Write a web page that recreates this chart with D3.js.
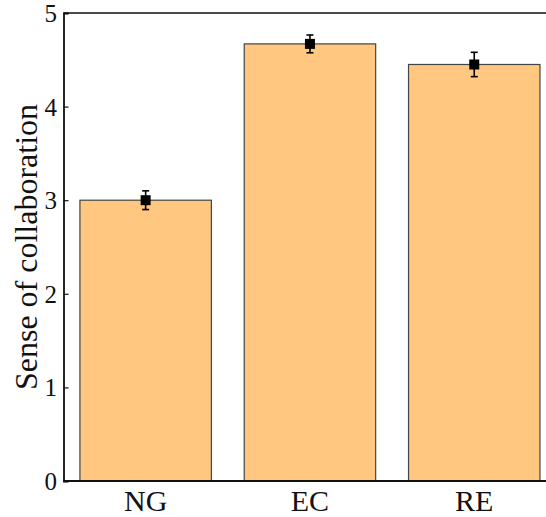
<!DOCTYPE html>
<html>
<head>
<meta charset="utf-8">
<script src="https://cdn.jsdelivr.net/npm/d3@7"></script>
<style>
  html, body { margin: 0; padding: 0; background: #fff; }
  svg { display: block; }
</style>
</head>
<body>
<svg id="chart" width="546" height="517"></svg>
<script>
const categories = ["NG", "EC", "RE"];
const means = [3.0, 4.67, 4.45];
const errors = [0.10, 0.095, 0.13];
const yTicks = [0, 1, 2, 3, 4, 5];
const yLabel = "Sense of collaboration";

const svg = d3.select("#chart");
const mLeft = 63.5, mRight = 556.4, mTop = 13, mBottom = 481;

const x = d3.scaleBand().domain(categories).range([mLeft, mRight])
  .paddingInner(0.2).paddingOuter(0.1);
const y = d3.scaleLinear().domain([0, 5]).range([mBottom, mTop]);

const data = categories.map((c, i) => ({ c, m: means[i], e: errors[i] }));

// bars
svg.append("g").selectAll("rect").data(data).join("rect")
  .attr("x", d => x(d.c))
  .attr("y", d => y(d.m))
  .attr("width", x.bandwidth())
  .attr("height", d => y(0) - y(d.m))
  .attr("fill", "#ffc780")
  .attr("stroke", "#444")
  .attr("stroke-width", 1.2);

// axes box lines
svg.append("line").attr("x1", mLeft).attr("x2", 546).attr("y1", mTop).attr("y2", mTop)
  .attr("stroke", "#111").attr("stroke-width", 1.6);
svg.append("line").attr("x1", mLeft).attr("x2", 546).attr("y1", mBottom).attr("y2", mBottom)
  .attr("stroke", "#111").attr("stroke-width", 2);

// y axis with inward ticks
const yAxis = d3.axisLeft(y).tickValues(yTicks).tickSize(-5).tickPadding(6.5)
  .tickFormat(d3.format("d"));
const gy = svg.append("g").attr("transform", `translate(${mLeft},0)`).call(yAxis);
gy.select(".domain").attr("stroke", "#111").attr("stroke-width", 1.8);
gy.selectAll(".tick line").attr("stroke", "#111").attr("stroke-width", 1.2);
gy.selectAll(".tick text")
  .attr("font-family", "'Liberation Serif', 'DejaVu Serif', serif")
  .attr("font-size", 25).attr("fill", "#111").attr("dy", "0.34em");

// x axis labels
const xAxis = d3.axisBottom(x).tickSize(0).tickPadding(9);
const gx = svg.append("g").attr("transform", `translate(0,${mBottom})`).call(xAxis);
gx.select(".domain").remove();
gx.selectAll(".tick text")
  .attr("font-family", "'Liberation Serif', 'DejaVu Serif', serif")
  .attr("font-size", 30).attr("fill", "#111");

// error bars
const cx = d => x(d.c) + x.bandwidth() / 2;
const eg = svg.append("g").attr("stroke", "#000").attr("stroke-width", 1.6);
eg.selectAll("line.v").data(data).join("line").attr("class", "v")
  .attr("x1", cx).attr("x2", cx)
  .attr("y1", d => y(d.m + d.e)).attr("y2", d => y(d.m - d.e));
eg.selectAll("line.t").data(data).join("line").attr("class", "t")
  .attr("x1", d => cx(d) - 3.5).attr("x2", d => cx(d) + 3.5)
  .attr("y1", d => y(d.m + d.e)).attr("y2", d => y(d.m + d.e));
eg.selectAll("line.b").data(data).join("line").attr("class", "b")
  .attr("x1", d => cx(d) - 3.5).attr("x2", d => cx(d) + 3.5)
  .attr("y1", d => y(d.m - d.e)).attr("y2", d => y(d.m - d.e));
svg.append("g").selectAll("rect").data(data).join("rect")
  .attr("x", d => cx(d) - 5).attr("y", d => y(d.m) - 5)
  .attr("width", 10).attr("height", 10).attr("fill", "#000");

// y label
svg.append("text")
  .attr("transform", `translate(37,247) rotate(-90)`)
  .attr("text-anchor", "middle")
  .attr("font-family", "'Liberation Serif', 'DejaVu Serif', serif")
  .attr("font-size", 32).attr("fill", "#111")
  .text(yLabel);
</script>
</body>
</html>
